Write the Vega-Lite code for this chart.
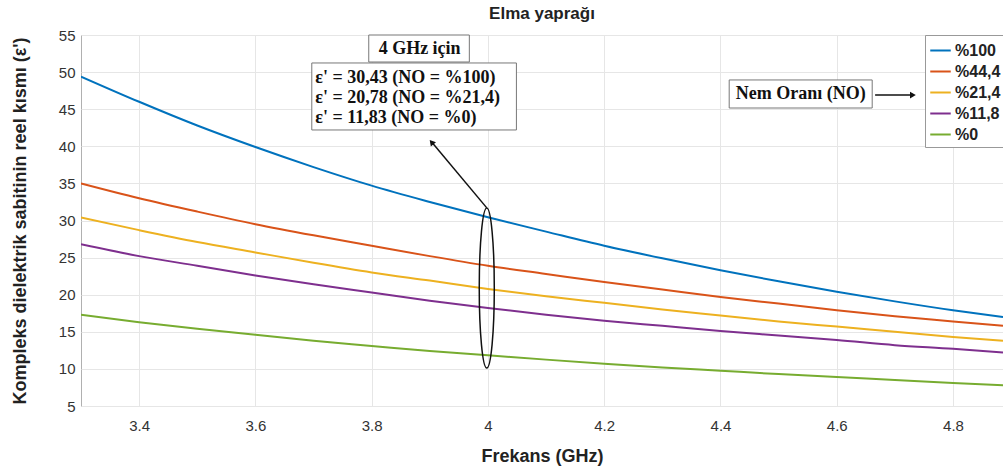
{
  "$schema": "https://vega.github.io/schema/vega-lite/v6.json",
  "width": 922,
  "height": 371,
  "autosize": {"type": "none"},
  "padding": {"left": 81, "top": 35, "right": 0, "bottom": 62},
  "background": "white",
  "title": {"text": "Elma yaprağı", "font": "Liberation Sans", "fontSize": 17, "fontWeight": "bold", "color": "#222222", "offset": 5, "anchor": "middle"},
  "config": {
    "view": {"stroke": "#b0b0b0", "strokeWidth": 1},
    "axis": {"grid": true, "gridColor": "#e6e6e6", "domain": false, "ticks": false, "labelOverlap": false, "labelFont": "Liberation Sans", "labelFontSize": 15, "labelColor": "#333333", "titleFont": "Liberation Sans", "titleFontSize": 18, "titleFontWeight": "bold", "titleColor": "#222222"},
    "legend": {"orient": "none", "legendX": 844, "legendY": 0, "fillColor": "white", "strokeColor": "#999999", "padding": 4, "symbolType": "stroke", "symbolStrokeWidth": 2, "symbolSize": 420, "labelFont": "Liberation Sans", "labelFontSize": 16, "labelFontWeight": "bold", "labelColor": "#222222", "rowPadding": 1, "labelOffset": 3}
  },
  "layer": [
    {
      "data": {"values": [
        {"f":3.3,"v":49.4,"s":"%100"},{"f":3.4,"v":46.0,"s":"%100"},{"f":3.5,"v":42.8,"s":"%100"},{"f":3.6,"v":39.9,"s":"%100"},{"f":3.7,"v":37.2,"s":"%100"},{"f":3.8,"v":34.7,"s":"%100"},{"f":3.9,"v":32.5,"s":"%100"},{"f":4.0,"v":30.43,"s":"%100"},{"f":4.1,"v":28.5,"s":"%100"},{"f":4.2,"v":26.6,"s":"%100"},{"f":4.3,"v":24.9,"s":"%100"},{"f":4.4,"v":23.3,"s":"%100"},{"f":4.5,"v":21.8,"s":"%100"},{"f":4.6,"v":20.4,"s":"%100"},{"f":4.7,"v":19.1,"s":"%100"},{"f":4.8,"v":17.9,"s":"%100"},{"f":4.886,"v":17.0,"s":"%100"},
        {"f":3.3,"v":35.0,"s":"%44,4"},{"f":3.4,"v":33.0,"s":"%44,4"},{"f":3.5,"v":31.2,"s":"%44,4"},{"f":3.6,"v":29.5,"s":"%44,4"},{"f":3.7,"v":28.0,"s":"%44,4"},{"f":3.8,"v":26.6,"s":"%44,4"},{"f":3.9,"v":25.2,"s":"%44,4"},{"f":4.0,"v":23.9,"s":"%44,4"},{"f":4.1,"v":22.8,"s":"%44,4"},{"f":4.2,"v":21.7,"s":"%44,4"},{"f":4.3,"v":20.7,"s":"%44,4"},{"f":4.4,"v":19.7,"s":"%44,4"},{"f":4.5,"v":18.8,"s":"%44,4"},{"f":4.6,"v":17.9,"s":"%44,4"},{"f":4.7,"v":17.1,"s":"%44,4"},{"f":4.8,"v":16.4,"s":"%44,4"},{"f":4.886,"v":15.8,"s":"%44,4"},
        {"f":3.3,"v":30.4,"s":"%21,4"},{"f":3.4,"v":28.7,"s":"%21,4"},{"f":3.5,"v":27.1,"s":"%21,4"},{"f":3.6,"v":25.7,"s":"%21,4"},{"f":3.7,"v":24.3,"s":"%21,4"},{"f":3.8,"v":23.0,"s":"%21,4"},{"f":3.9,"v":21.9,"s":"%21,4"},{"f":4.0,"v":20.78,"s":"%21,4"},{"f":4.1,"v":19.8,"s":"%21,4"},{"f":4.2,"v":18.9,"s":"%21,4"},{"f":4.3,"v":18.0,"s":"%21,4"},{"f":4.4,"v":17.2,"s":"%21,4"},{"f":4.5,"v":16.4,"s":"%21,4"},{"f":4.6,"v":15.7,"s":"%21,4"},{"f":4.7,"v":15.0,"s":"%21,4"},{"f":4.8,"v":14.3,"s":"%21,4"},{"f":4.886,"v":13.8,"s":"%21,4"},
        {"f":3.3,"v":26.8,"s":"%11,8"},{"f":3.4,"v":25.2,"s":"%11,8"},{"f":3.5,"v":23.9,"s":"%11,8"},{"f":3.6,"v":22.6,"s":"%11,8"},{"f":3.7,"v":21.4,"s":"%11,8"},{"f":3.8,"v":20.3,"s":"%11,8"},{"f":3.9,"v":19.2,"s":"%11,8"},{"f":4.0,"v":18.2,"s":"%11,8"},{"f":4.1,"v":17.3,"s":"%11,8"},{"f":4.2,"v":16.5,"s":"%11,8"},{"f":4.3,"v":15.8,"s":"%11,8"},{"f":4.4,"v":15.1,"s":"%11,8"},{"f":4.5,"v":14.5,"s":"%11,8"},{"f":4.6,"v":13.9,"s":"%11,8"},{"f":4.7,"v":13.2,"s":"%11,8"},{"f":4.8,"v":12.7,"s":"%11,8"},{"f":4.886,"v":12.2,"s":"%11,8"},
        {"f":3.3,"v":17.3,"s":"%0"},{"f":3.4,"v":16.3,"s":"%0"},{"f":3.5,"v":15.4,"s":"%0"},{"f":3.6,"v":14.6,"s":"%0"},{"f":3.7,"v":13.8,"s":"%0"},{"f":3.8,"v":13.1,"s":"%0"},{"f":3.9,"v":12.4,"s":"%0"},{"f":4.0,"v":11.83,"s":"%0"},{"f":4.1,"v":11.25,"s":"%0"},{"f":4.2,"v":10.7,"s":"%0"},{"f":4.3,"v":10.2,"s":"%0"},{"f":4.4,"v":9.75,"s":"%0"},{"f":4.5,"v":9.3,"s":"%0"},{"f":4.6,"v":8.9,"s":"%0"},{"f":4.7,"v":8.5,"s":"%0"},{"f":4.8,"v":8.1,"s":"%0"},{"f":4.886,"v":7.8,"s":"%0"}
      ]},
      "mark": {"type": "line", "strokeWidth": 2, "interpolate": "monotone", "clip": true},
      "encoding": {
        "x": {"field": "f", "type": "quantitative", "scale": {"domain": [3.3, 4.886], "nice": false, "zero": false}, "axis": {"values": [3.4, 3.6, 3.8, 4.0, 4.2, 4.4, 4.6, 4.8], "tickCount": 20, "format": "~g", "title": "Frekans (GHz)", "titleY": 50, "titleBaseline": "middle", "labelPadding": 12}},
        "y": {"field": "v", "type": "quantitative", "scale": {"domain": [5, 55], "nice": false, "zero": false}, "axis": {"values": [5, 10, 15, 20, 25, 30, 35, 40, 45, 50, 55], "tickCount": 20, "labelOverlap": false, "title": "Kompleks dielektrik sabitinin reel kısmı (ε')", "titleX": -61, "titleBaseline": "middle", "labelPadding": 6}},
        "color": {"field": "s", "type": "nominal", "sort": ["%100", "%44,4", "%21,4", "%11,8", "%0"], "scale": {"domain": ["%100", "%44,4", "%21,4", "%11,8", "%0"], "range": ["#0072BD", "#D95319", "#EDB120", "#7E2F8E", "#77AC30"]}, "legend": {"title": null}}
      }
    },
    {
      "data": {"values": [
        {"x1": 3.795, "x2": 3.968, "y1": 55, "y2": 51.36},
        {"x1": 3.697, "x2": 4.049, "y1": 51.23, "y2": 42.2},
        {"x1": 4.415, "x2": 4.661, "y1": 48.94, "y2": 45.16}
      ]},
      "mark": {"type": "rect", "fill": "white", "stroke": "#777777", "strokeWidth": 1},
      "encoding": {
        "x": {"field": "x1", "type": "quantitative"},
        "x2": {"field": "x2"},
        "y": {"field": "y1", "type": "quantitative"},
        "y2": {"field": "y2"}
      }
    },
    {
      "data": {"values": [
        {"x": 3.8825, "y": 53.1, "t": "4 GHz için"},
        {"x": 4.538, "y": 47.05, "t": "Nem Oranı (NO)"}
      ]},
      "mark": {"type": "text", "font": "Liberation Serif", "fontSize": 18, "fontWeight": "bold", "color": "#111111", "align": "center", "baseline": "middle"},
      "encoding": {
        "x": {"field": "x", "type": "quantitative"},
        "y": {"field": "y", "type": "quantitative"},
        "text": {"field": "t"}
      }
    },
    {
      "data": {"values": [
        {"x": 3.703, "y": 49.2, "t": "ε' = 30,43 (NO = %100)"},
        {"x": 3.703, "y": 46.5, "t": "ε' = 20,78 (NO = %21,4)"},
        {"x": 3.703, "y": 43.8, "t": "ε' = 11,83 (NO = %0)"}
      ]},
      "mark": {"type": "text", "font": "Liberation Serif", "fontSize": 18, "fontWeight": "bold", "color": "#111111", "align": "left", "baseline": "middle"},
      "encoding": {
        "x": {"field": "x", "type": "quantitative"},
        "y": {"field": "y", "type": "quantitative"},
        "text": {"field": "t"}
      }
    },
    {
      "data": {"values": [
        {"x1": 3.998, "y1": 31.7, "x2": 3.905, "y2": 40.4},
        {"x1": 4.666, "y1": 46.9, "x2": 4.728, "y2": 46.9}
      ]},
      "mark": {"type": "rule", "color": "#111111", "strokeWidth": 1.5},
      "encoding": {
        "x": {"field": "x1", "type": "quantitative"},
        "y": {"field": "y1", "type": "quantitative"},
        "x2": {"field": "x2"},
        "y2": {"field": "y2"}
      }
    },
    {
      "data": {"values": [
        {"x": 3.903, "y": 40.55, "a": 320},
        {"x": 4.731, "y": 46.9, "a": 90}
      ]},
      "mark": {"type": "point", "shape": "triangle-up", "filled": true, "color": "#111111", "size": 45, "opacity": 1},
      "encoding": {
        "x": {"field": "x", "type": "quantitative"},
        "y": {"field": "y", "type": "quantitative"},
        "angle": {"field": "a", "type": "quantitative", "scale": null}
      }
    },
    {
      "data": {"values": [{"x": 3.998, "y": 20.9}]},
      "mark": {"type": "point", "shape": "M0,-1A0.094,1,0,1,1,0,1A0.094,1,0,1,1,0,-1Z", "filled": false, "stroke": "#111111", "strokeWidth": 1.5, "size": 25600, "opacity": 1},
      "encoding": {
        "x": {"field": "x", "type": "quantitative"},
        "y": {"field": "y", "type": "quantitative"}
      }
    }
  ]
}
